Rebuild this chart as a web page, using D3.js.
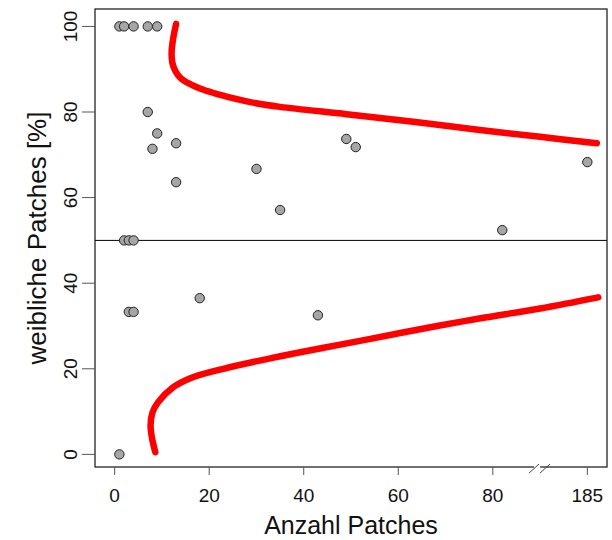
<!DOCTYPE html>
<html>
<head>
<meta charset="utf-8">
<script src="https://cdn.jsdelivr.net/npm/d3@7/dist/d3.min.js"></script>
<style>
  body { margin: 0; background: #fff; }
  svg { font-family: "Liberation Sans", Arial, sans-serif; }
</style>
</head>
<body>
<svg id="chart" width="612" height="540"></svg>
<script>
// Anzahl Patches vs. Anteil weiblicher Patches
const patchCount = [1, 2, 4, 7, 9, 7, 9, 8, 13, 13, 30, 35, 49, 51, 82, 185, 2, 3, 4, 3, 4, 18, 43, 1];
const femalePct  = [100, 100, 100, 100, 100, 80, 75, 71.4, 72.7, 63.6, 66.7, 57.1, 73.7, 71.8, 52.4, 68.3, 50, 50, 50, 33.3, 33.3, 36.5, 32.5, 0];

// upper / lower limit lines
const upperN   = [13.0, 12.35, 12.05, 12.2, 12.84, 13.9, 16.0, 18.8, 21.7, 25.2, 28.7, 35, 49.1, 63.2, 77.3, 90, 204];
const upperPct = [100.6, 97.0, 93.9, 91.5, 89.6, 88.0, 86.5, 85.2, 84.2, 83.2, 82.3, 81.2, 79.5, 77.7, 75.8, 74.2, 72.7];
const lowerN   = [8.6, 7.9, 7.6, 8.0, 9.2, 12.4, 16, 23, 33.6, 44.2, 54.1, 68.2, 77.4, 90, 206.9];
const lowerPct = [0.5, 3.8, 6.8, 9.8, 12.2, 15.7, 17.8, 20.0, 22.6, 24.9, 27.0, 30.0, 31.8, 34.1, 36.7];

const xTicks = [0, 20, 40, 60, 80, 185];
const yTicks = [0, 20, 40, 60, 80, 100];

const svg = d3.select("#chart");
const box = {left: 95, right: 607, top: 9, bottom: 467};

// axis is broken at 90: 90..185 is squeezed into 90..100
const xPos = d3.scaleLinear().domain([-4.16, 104.16]).range([box.left, box.right]);
const x = d3.scaleLinear().domain([0, 90, 185]).range([xPos(0), xPos(90), xPos(100)]);
const y = d3.scaleLinear().domain([-2.95, 104.07]).range([box.bottom, box.top]);

// reference line at 50 %
svg.append("line")
    .attr("x1", box.left).attr("x2", box.right)
    .attr("y1", y(50)).attr("y2", y(50))
    .attr("stroke", "#000").attr("stroke-width", 1);

const line = d3.line()
    .x(d => x(d[0]))
    .y(d => y(d[1]))
    .curve(d3.curveCatmullRom.alpha(0.5));

[[upperN, upperPct], [lowerN, lowerPct]].forEach(([ns, ps]) => {
    svg.append("path")
        .datum(d3.zip(ns, ps))
        .attr("d", line)
        .attr("fill", "none")
        .attr("stroke", "#ff0000")
        .attr("stroke-width", 6.5)
        .attr("stroke-linecap", "round")
        .attr("stroke-linejoin", "round");
});

svg.append("g").selectAll("circle")
    .data(d3.zip(patchCount, femalePct))
    .enter().append("circle")
    .attr("cx", d => x(d[0]))
    .attr("cy", d => y(d[1]))
    .attr("r", 4.7)
    .attr("fill", "#a6a6a6")
    .attr("stroke", "#222")
    .attr("stroke-width", 1);

// frame
svg.append("rect")
    .attr("x", box.left).attr("y", box.top)
    .attr("width", box.right - box.left).attr("height", box.bottom - box.top)
    .attr("fill", "none").attr("stroke", "#111").attr("stroke-width", 1.2);

// x axis
const xAxis = svg.append("g");
xAxis.selectAll("line.tick")
    .data(xTicks)
    .enter().append("line")
    .attr("x1", d => x(d)).attr("x2", d => x(d))
    .attr("y1", box.bottom).attr("y2", box.bottom + 8)
    .attr("stroke", "#555").attr("stroke-width", 1);
xAxis.selectAll("text")
    .data(xTicks)
    .enter().append("text")
    .attr("x", d => x(d))
    .attr("y", 502)
    .attr("text-anchor", "middle")
    .attr("font-size", 19)
    .attr("fill", "#111")
    .text(d => d);

// break marks
const bx = x(90);
svg.append("rect")
    .attr("x", bx - 6).attr("y", box.bottom - 1.5)
    .attr("width", 6).attr("height", 3)
    .attr("fill", "#fff");
[-11, 0].forEach(off => {
    svg.append("line")
        .attr("x1", bx + off).attr("y1", box.bottom + 6)
        .attr("x2", bx + off + 10).attr("y2", box.bottom - 3)
        .attr("stroke", "#444").attr("stroke-width", 1);
});

// y axis
const yAxis = svg.append("g");
yAxis.selectAll("line")
    .data(yTicks)
    .enter().append("line")
    .attr("x1", box.left - 13).attr("x2", box.left)
    .attr("y1", d => y(d)).attr("y2", d => y(d))
    .attr("stroke", "#555").attr("stroke-width", 1);
yAxis.selectAll("text")
    .data(yTicks)
    .enter().append("text")
    .attr("transform", d => `translate(77,${y(d)}) rotate(-90)`)
    .attr("text-anchor", "middle")
    .attr("font-size", 19)
    .attr("fill", "#111")
    .text(d => d);

// titles
svg.append("text")
    .attr("x", (box.left + box.right) / 2)
    .attr("y", 534)
    .attr("text-anchor", "middle")
    .attr("font-size", 25)
    .attr("fill", "#111")
    .text("Anzahl Patches");

svg.append("text")
    .attr("transform", `translate(46,${(box.top + box.bottom) / 2}) rotate(-90)`)
    .attr("text-anchor", "middle")
    .attr("font-size", 26)
    .attr("fill", "#111")
    .text("weibliche Patches [%]");
</script>
</body>
</html>
